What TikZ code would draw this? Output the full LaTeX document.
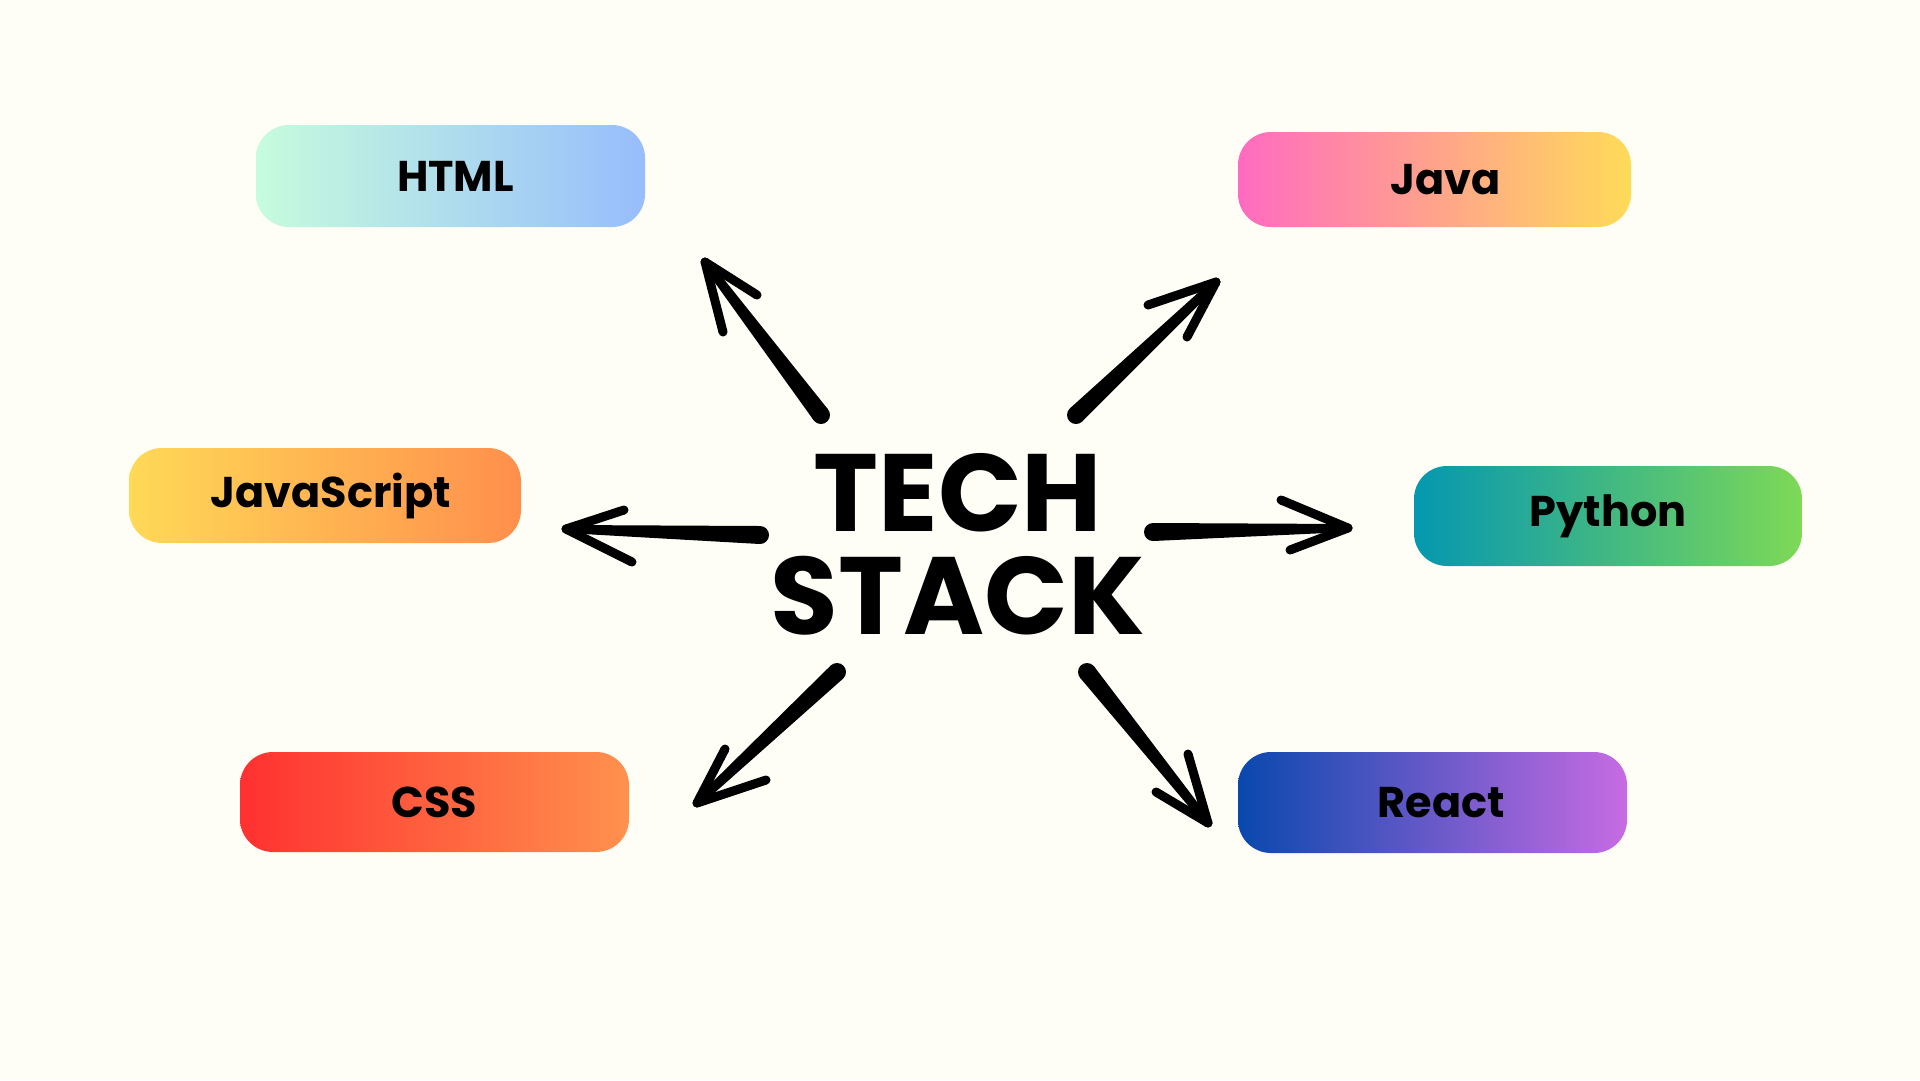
\documentclass[tikz,border=0pt]{standalone}
\usepackage{fontspec}
\setmainfont{Poppins}
\usetikzlibrary{calc}
\definecolor{bg}{HTML}{FFFEF6}
\definecolor{htmlL}{HTML}{C6FCDD}\definecolor{htmlR}{HTML}{98BDFC}
\definecolor{javaL}{HTML}{FF6BC0}\definecolor{javaR}{HTML}{FFDB58}
\definecolor{jsL}{HTML}{FFD957}\definecolor{jsR}{HTML}{FF8F4C}
\definecolor{pyL}{HTML}{0497B0}\definecolor{pyR}{HTML}{7ED957}
\definecolor{cssL}{HTML}{FF3131}\definecolor{cssR}{HTML}{FF914D}
\definecolor{reL}{HTML}{0948AE}\definecolor{reR}{HTML}{C76BE3}
\newcommand\tapstroke[4]{%
  \fill[black] ($(#1)!#3!90:(#2)$) -- ($(#2)!#4!-90:(#1)$) -- ($(#2)!#4!90:(#1)$) -- ($(#1)!#3!-90:(#2)$) -- cycle;
  \fill[black] (#1) circle[radius=#3];
  \fill[black] (#2) circle[radius=#4];}
\newcommand\sketcharrow[4]{% tail, tip, barb1, barb2
  \tapstroke{#1}{#2}{9pt}{4pt}
  \tapstroke{#2}{#3}{4.5pt}{4.5pt}
  \tapstroke{#2}{#4}{4.5pt}{4.5pt}}
\tikzset{
  techbox/.style={rounded corners=33pt, inner sep=0pt, font=\fontsize{43}{43}\selectfont\bfseries, text=black},
  title/.style={align=center, inner sep=0pt, font=\fontsize{110}{103}\selectfont\bfseries, text=black}
}
\begin{document}
\begin{tikzpicture}[x=1pt,y=-1pt]
\fill[bg] (0,0) rectangle (1920,1080);
\useasboundingbox (0,0) rectangle (1920,1080);

\node[techbox, minimum width=389pt, minimum height=102pt, left color=htmlL, right color=htmlR] (html) at (450.5,176) {\hspace*{10pt}HTML};
\node[techbox, minimum width=393pt, minimum height=95pt, left color=javaL, right color=javaR] (java) at (1434.5,179.5) {\hspace*{22pt}Java};
\node[techbox, minimum width=392pt, minimum height=95pt, left color=jsL, right color=jsR] (js) at (325,495.5) {\hspace*{12pt}JavaScript};
\node[techbox, minimum width=388pt, minimum height=100pt, left color=pyL, right color=pyR] (py) at (1608,516) {Python};
\node[techbox, minimum width=389pt, minimum height=100pt, left color=cssL, right color=cssR] (css) at (434.5,802) {CSS};
\node[techbox, minimum width=389pt, minimum height=101pt, left color=reL, right color=reR] (react) at (1432.5,802.5) {\hspace*{18pt}React};

\node[title] (tech) at (958,544) {TECH\\STACK};

% arrow end points
\coordinate (a1t) at (821,415);  \coordinate (a1h) at (705,262);  \coordinate (a1b) at (757,295);  \coordinate (a1c) at (723,332);
\coordinate (a2t) at (1076,415); \coordinate (a2h) at (1216,282); \coordinate (a2b) at (1148,305); \coordinate (a2c) at (1187,337);
\coordinate (a3t) at (760,535);  \coordinate (a3h) at (566,529);  \coordinate (a3b) at (624,510);  \coordinate (a3c) at (632,562);
\coordinate (a4t) at (1153,532); \coordinate (a4h) at (1348,528); \coordinate (a4b) at (1281,500); \coordinate (a4c) at (1290,550);
\coordinate (a5t) at (837,672);  \coordinate (a5h) at (697,803);  \coordinate (a5b) at (725,749);  \coordinate (a5c) at (766,780);
\coordinate (a6t) at (1087,672); \coordinate (a6h) at (1208,823); \coordinate (a6b) at (1188,754); \coordinate (a6c) at (1156,792);

\sketcharrow{a1t}{a1h}{a1b}{a1c}
\sketcharrow{a2t}{a2h}{a2b}{a2c}
\sketcharrow{a3t}{a3h}{a3b}{a3c}
\sketcharrow{a4t}{a4h}{a4b}{a4c}
\sketcharrow{a5t}{a5h}{a5b}{a5c}
\sketcharrow{a6t}{a6h}{a6b}{a6c}
\end{tikzpicture}
\end{document}
